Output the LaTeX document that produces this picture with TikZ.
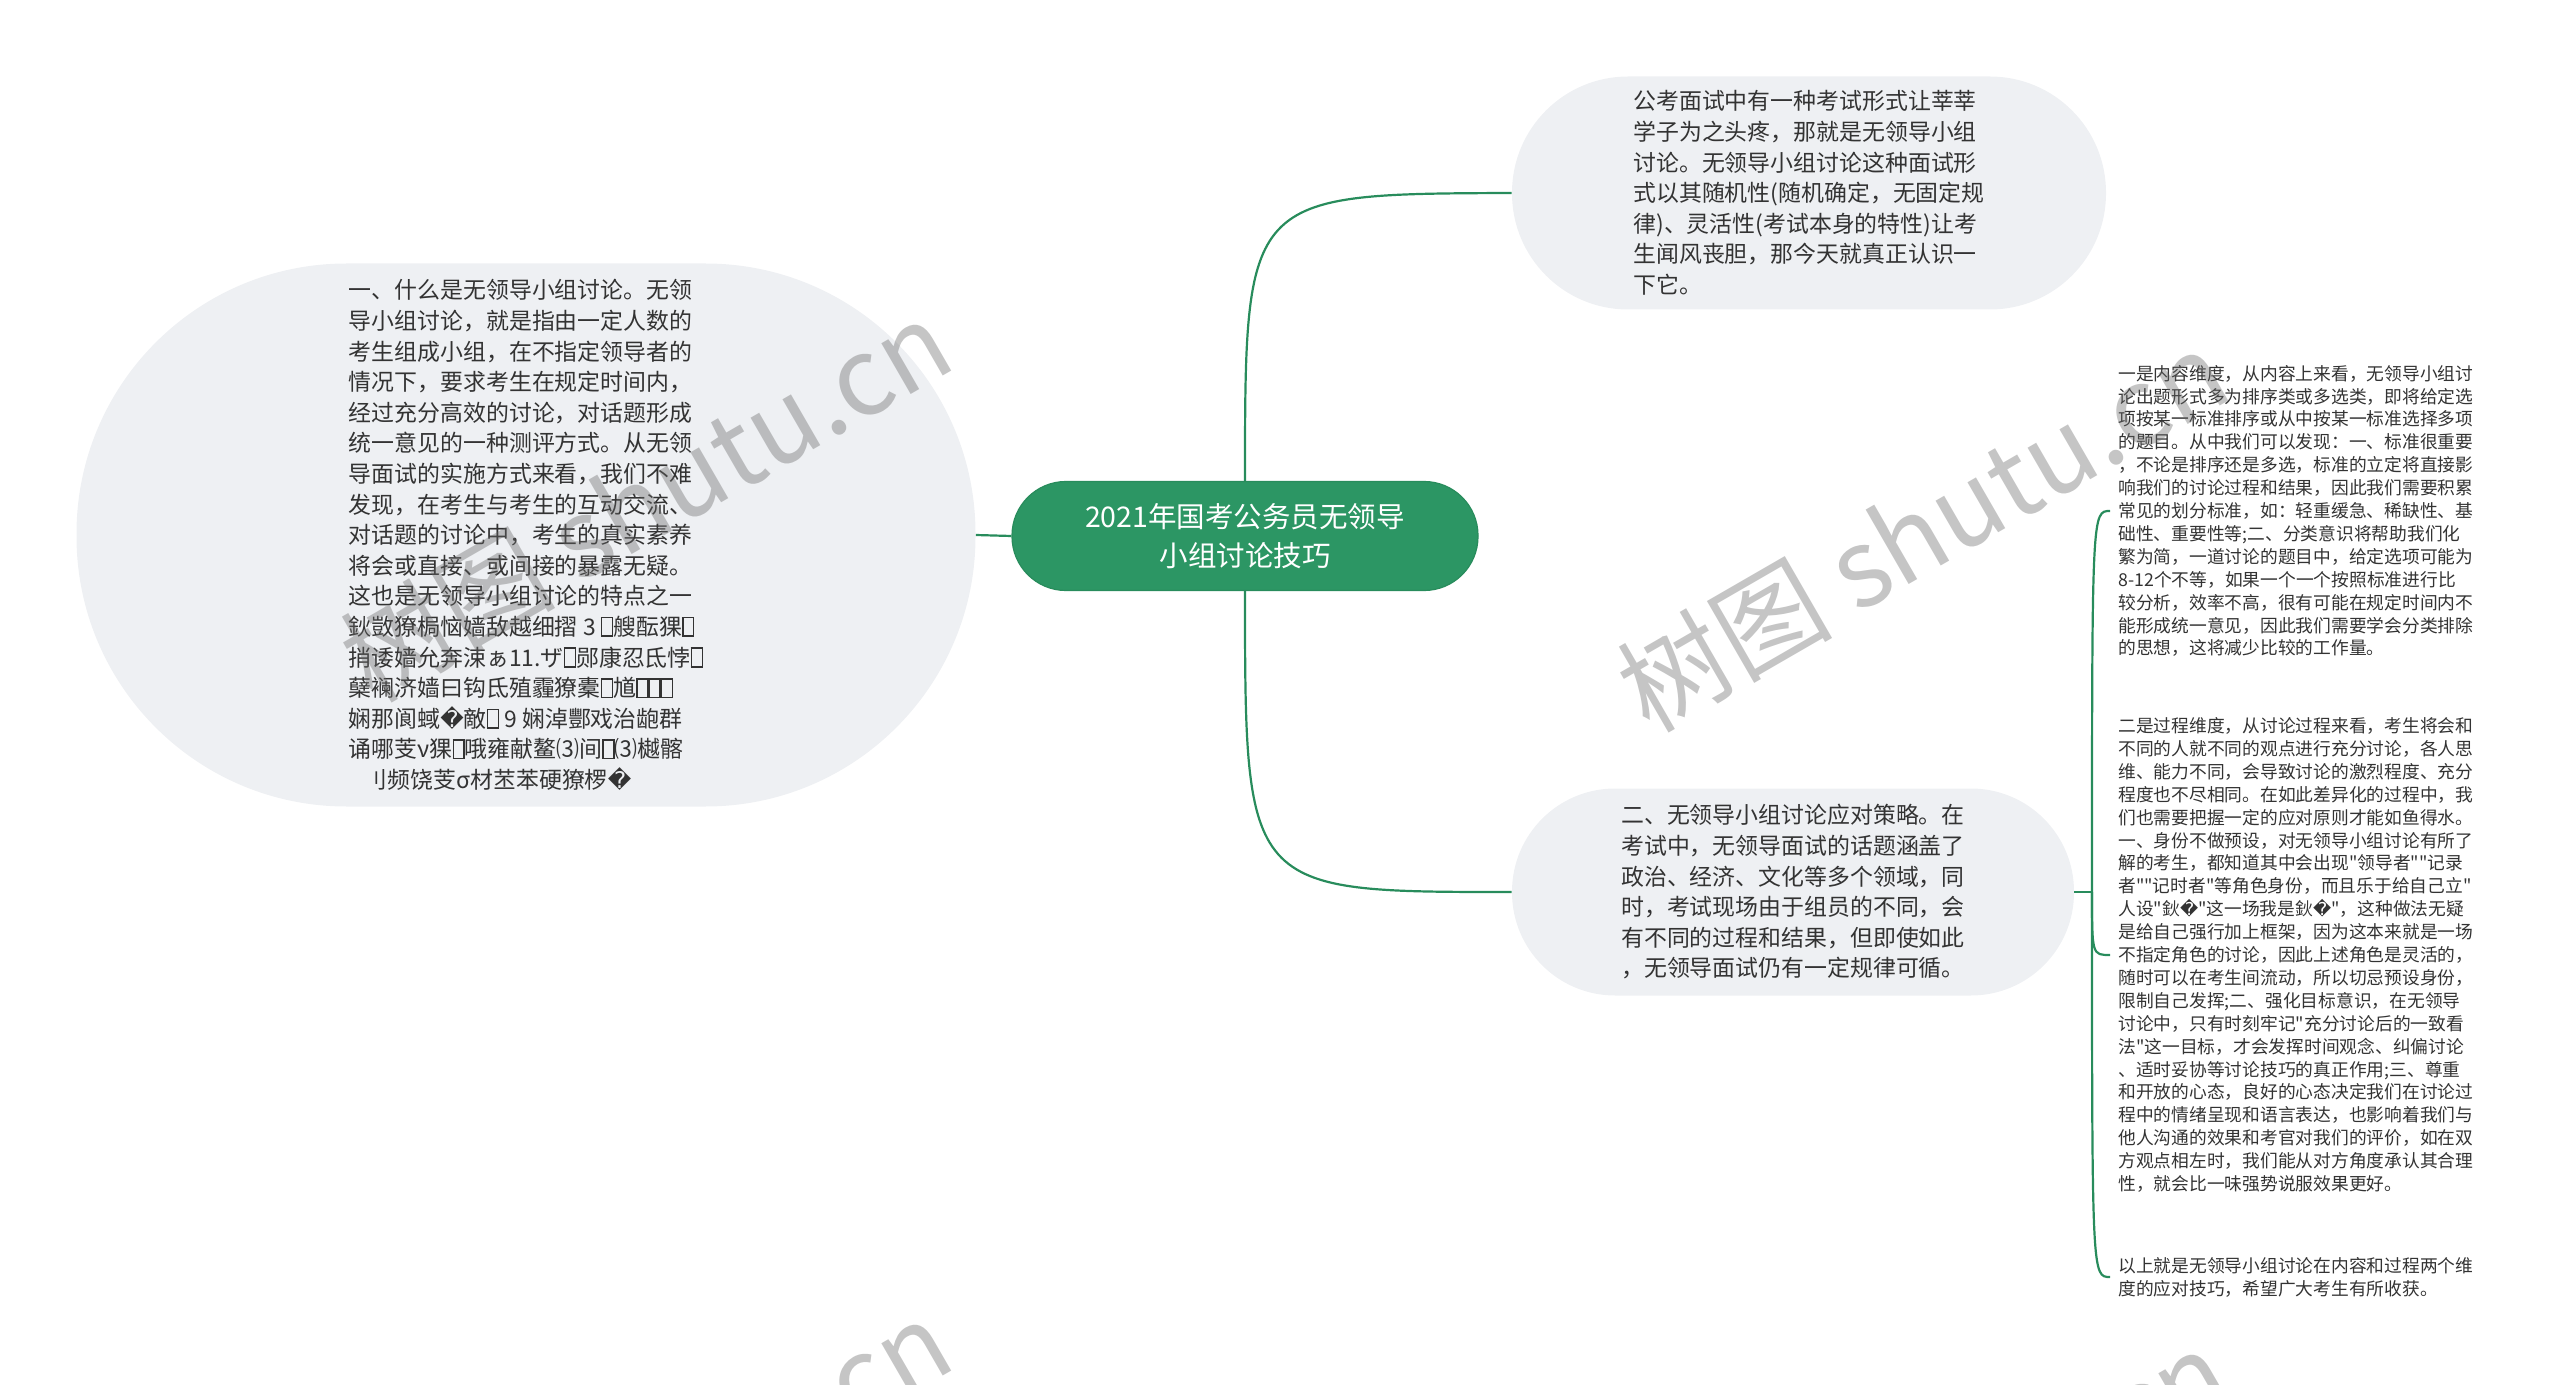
\documentclass[tikz,border=0pt]{standalone}
\usepackage{fontspec}
\setmainfont{Noto Sans CJK SC}
\newfontfamily\cjk{Noto Sans CJK SC}
\newfontfamily\dvs{DejaVu Sans}
\newcommand\rep{{\dvs �}}
\newcommand\mbx{{\setlength{\fboxsep}{0pt}\setlength{\fboxrule}{0.07em}\fbox{\rule{0pt}{0.75em}\rule{0.4em}{0pt}}}}
\definecolor{nodebg}{RGB}{238,240,243}
\definecolor{txt}{RGB}{51,51,51}
\definecolor{gfill}{RGB}{44,150,100}
\definecolor{gline}{RGB}{40,140,92}
\tikzset{
  bubble/.style={fill=nodebg, text=txt, font=\cjk\fontsize{11.45}{15.3}\selectfont, align=left, inner sep=0pt},
  rootnode/.style={fill=gfill, draw=gline, line width=0.6pt, text=white, font=\cjk\fontsize{14.25}{19.75}\selectfont, align=center, inner sep=0pt, minimum width=233pt, minimum height=54.5pt, rounded corners=27pt},
  leaf/.style={text=txt, font=\cjk\fontsize{8.875}{11.45}\selectfont, align=left, anchor=west, inner xsep=4pt, inner ysep=0pt},
  conn/.style={draw=gline, line width=1.1pt},
  wm/.style={text=black!60, text opacity=0.38, font=\cjk\fontsize{54}{60}\selectfont, inner sep=0pt}
}
\begin{document}
\begin{tikzpicture}[x=0.5pt,y=-0.5pt]
\useasboundingbox (0,0) rectangle (2560,1385);

\node[bubble, minimum width=449.5pt, minimum height=271.5pt, rounded corners=135pt] (L) at (526,535) {%
一、什么是无领导小组讨论。无领\\
导小组讨论，就是指由一定人数的\\
考生组成小组，在不指定领导者的\\
情况下，要求考生在规定时间内，\\
经过充分高效的讨论，对话题形成\\
统一意见的一种测评方式。从无领\\
导面试的实施方式来看，我们不难\\
发现，在考生与考生的互动交流、\\
对话题的讨论中，考生的真实素养\\
将会或直接、或间接的暴露无疑。\\
这也是无领导小组讨论的特点之一\\
鈥敳獠梮恼嫱敌越细摺 3 \mbx 艘酝猓\mbx\\
捎诿嫱允奔涑ぁ11.ザ\mbx 郧康忍氐悖\mbx\\
蘖襕济嫱曰钩氐殖霾獠橐\mbx 馗\mbx\mbx\mbx\\
娴那阆蜮\rep 敵\mbx\ 9 娴淖酆戏治龅群\\
诵哪芰ν猓\mbx 哦雍献鳌⑶间\mbx⑶樾髂\\
\hspace*{0.7em}刂频饶芰σ材苤苯硬獠椤\rep};

\node[bubble, minimum width=297pt, minimum height=116.5pt, rounded corners=58pt] (TR) at (1809,193) {%
公考面试中有一种考试形式让莘莘\\
学子为之头疼，那就是无领导小组\\
讨论。无领导小组讨论这种面试形\\
式以其随机性(随机确定，无固定规\\
律)、灵活性(考试本身的特性)让考\\
生闻风丧胆，那今天就真正认识一\\
下它。};

\node[bubble, minimum width=281pt, minimum height=103.5pt, rounded corners=51.5pt] (BR) at (1793,892) {%
二、无领导小组讨论应对策略。在\\
考试中，无领导面试的话题涵盖了\\
政治、经济、文化等多个领域，同\\
时，考试现场由于组员的不同，会\\
有不同的过程和结果，但即使如此\\
，无领导面试仍有一定规律可循。};

\node[rootnode] (C) at (1245,536) {2021年国考公务员无领导\\小组讨论技巧};

\node[leaf] (l1) at (2110,511) {%
一是内容维度，从内容上来看，无领导小组讨\\
论出题形式多为排序类或多选类，即将给定选\\
项按某一标准排序或从中按某一标准选择多项\\
的题目。从中我们可以发现：一、标准很重要\\
，不论是排序还是多选，标准的立定将直接影\\
响我们的讨论过程和结果，因此我们需要积累\\
常见的划分标准，如：轻重缓急、稀缺性、基\\
础性、重要性等;二、分类意识将帮助我们化\\
繁为简，一道讨论的题目中，给定选项可能为\\
8-12个不等，如果一个一个按照标准进行比\\
较分析，效率不高，很有可能在规定时间内不\\
能形成统一意见，因此我们需要学会分类排除\\
的思想，这将减少比较的工作量。};

\node[leaf] (l2) at (2110,955) {%
二是过程维度，从讨论过程来看，考生将会和\\
不同的人就不同的观点进行充分讨论，各人思\\
维、能力不同，会导致讨论的激烈程度、充分\\
程度也不尽相同。在如此差异化的过程中，我\\
们也需要把握一定的应对原则才能如鱼得水。\\
一、身份不做预设，对无领导小组讨论有所了\\
解的考生，都知道其中会出现"领导者""记录\\
者""记时者"等角色身份，而且乐于给自己立"\\
人设"鈥\rep"这一场我是鈥\rep"，这种做法无疑\\
是给自己强行加上框架，因为这本来就是一场\\
不指定角色的讨论，因此上述角色是灵活的，\\
随时可以在考生间流动，所以切忌预设身份，\\
限制自己发挥;二、强化目标意识，在无领导\\
讨论中，只有时刻牢记"充分讨论后的一致看\\
法"这一目标，才会发挥时间观念、纠偏讨论\\
、适时妥协等讨论技巧的真正作用;三、尊重\\
和开放的心态，良好的心态决定我们在讨论过\\
程中的情绪呈现和语言表达，也影响着我们与\\
他人沟通的效果和考官对我们的评价，如在双\\
方观点相左时，我们能从对方角度承认其合理\\
性，就会比一味强势说服效果更好。};

\node[leaf] (l3) at (2110,1277) {%
以上就是无领导小组讨论在内容和过程两个维\\
度的应对技巧，希望广大考生有所收获。};

\draw[conn] (C.west) -- (L.east);
\draw[conn] (C.north) .. controls (1245,194) .. (TR.west);
\draw[conn] (C.south) .. controls (1245,892) .. (BR.west);
\coordinate (J) at (2092,892);
\draw[conn] (BR.east) -- (J);
\draw[conn] (J) .. controls (2092,511) .. (l1.west);
\draw[conn] (J) .. controls (2092,955) .. (l2.west);
\draw[conn] (J) .. controls (2092,1277) .. (l3.west);

\begin{scope}
\clip (0,0) rectangle (2560,1385);
\node[wm, rotate=30] (w1) at (645,500) {树图 shutu.cn};
\node[wm, rotate=30] (w2) at (1922,530) {树图 shutu.cn};
\node[wm, rotate=30] (w3) at (645,1500) {树图 shutu.cn};
\node[wm, rotate=30] (w4) at (1922,1530) {树图 shutu.cn};
\end{scope}
\end{tikzpicture}
\end{document}
